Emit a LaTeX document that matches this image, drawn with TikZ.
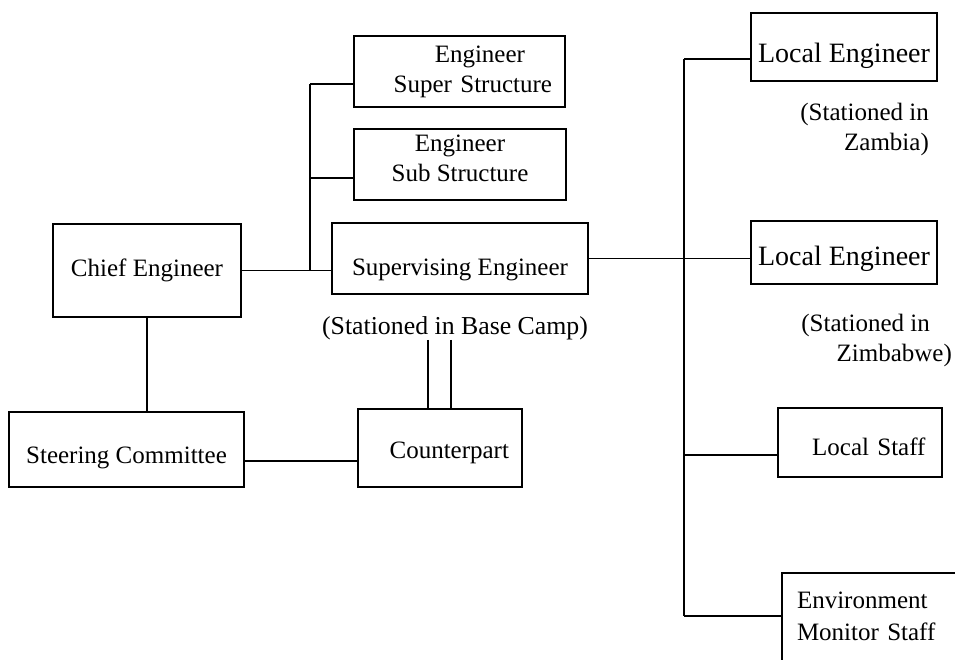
\documentclass[tikz,border=0pt]{standalone}
\usepackage{fontspec}
\setmainfont{Liberation Serif}
\begin{document}
\begin{tikzpicture}[x=1pt, y=-1pt,
    font=\fontsize{25}{30}\selectfont,
    box/.style={draw, line width=2pt, inner sep=0pt, align=center},
    link/.style={line width=1.4pt},
    heavylink/.style={line width=2.6pt},
    note/.style={align=right, inner sep=0pt}]

    \useasboundingbox (0,0) rectangle (955,659);

    % Boxes
    \node[box, minimum width=188pt, minimum height=93pt, text height=18pt, text depth=6pt] (chief) at (147,270.5) {Chief Engineer};
    \node[box, minimum width=235pt, minimum height=75pt, text height=34pt, text depth=6pt] (steer) at (126.5,449.5) {Steering Committee};
    \node[box, minimum width=164pt, minimum height=78pt, text height=27pt, text depth=6pt,
          text width=138pt, align=right] (counter) at (440,448) {Counterpart};
    \node[box, minimum width=256pt, minimum height=71pt, text height=40pt, text depth=6pt] (superv) at (460,258.5) {Supervising Engineer};
    \node[box, minimum width=211pt, minimum height=71pt, text width=185pt, align=right] (superstr) at (459.5,71.5) {Engineer\hspace*{27pt}\mbox{}\\Super Structure};
    \node[box, minimum width=212pt, minimum height=71pt, text depth=12pt] (substr) at (460,164.5) {Engineer\\Sub Structure};
    \node[box, minimum width=186pt, minimum height=68pt, text height=37pt, text depth=6pt,
          font=\fontsize{28}{32}\selectfont] (loceng1) at (844,47) {Local Engineer};
    \node[box, minimum width=186pt, minimum height=63pt, text height=32pt, text depth=6pt,
          font=\fontsize{28}{32}\selectfont] (loceng2) at (844,252.5) {Local Engineer};
    \node[box, minimum width=164pt, minimum height=69pt, text height=32pt, text depth=6pt,
          text width=131pt, align=right] (locstaff) at (860,442.5) {Local Staff};
    \node[box, anchor=north west, align=left, text width=160pt, inner xsep=15pt,
          inner ysep=19pt, text depth=60pt, font=\fontsize{25}{32}\selectfont] (envstaff) at (781,572) {Environment\\Monitor Staff};

    % Notes
    \node[note, font=\fontsize{25.8}{30}\selectfont] (basecamp) at (455,328) {(Stationed in Base Camp)};
    \node[note, anchor=east] (zambia) at (929,129.5) {(Stationed in\\Zambia)};
    \node[note, anchor=east] (zimbabwe) at (952,340) {(Stationed in\hspace*{22pt}\\Zimbabwe)};

    % Left side
    \coordinate (ltop) at (310,84);
    \coordinate (lbot) at (310,270);
    \draw[link] (chief.east) -- (chief.east -| superv.west);
    \draw[heavylink] (lbot) -- (ltop);
    \draw[link] (ltop) -- (ltop -| superstr.west);
    \draw[link] (ltop |- 0,178) -- (substr.west |- 0,178);
    \draw[heavylink] (chief.south) -- (chief.south |- steer.north);
    \draw[link] (steer.east |- 0,461) -- (counter.west |- 0,461);
    \draw[heavylink] ([xshift=-27pt]basecamp.south) -- ([xshift=-27pt]basecamp.south |- counter.north);
    \draw[heavylink] ([xshift=-4pt]basecamp.south) -- ([xshift=-4pt]basecamp.south |- counter.north);

    % Right side
    \coordinate (rtop) at (684,59);
    \coordinate (rbot) at (684,616);
    \draw[link] (superv.east) -- (superv.east -| loceng2.west);
    \draw[heavylink] (rtop) -- (rbot);
    \draw[link] (rtop) -- (rtop -| loceng1.west);
    \draw[link] (rtop |- 0,455) -- (locstaff.west |- 0,455);
    \draw[link] (rbot) -- (rbot -| envstaff.west);

\end{tikzpicture}
\end{document}
